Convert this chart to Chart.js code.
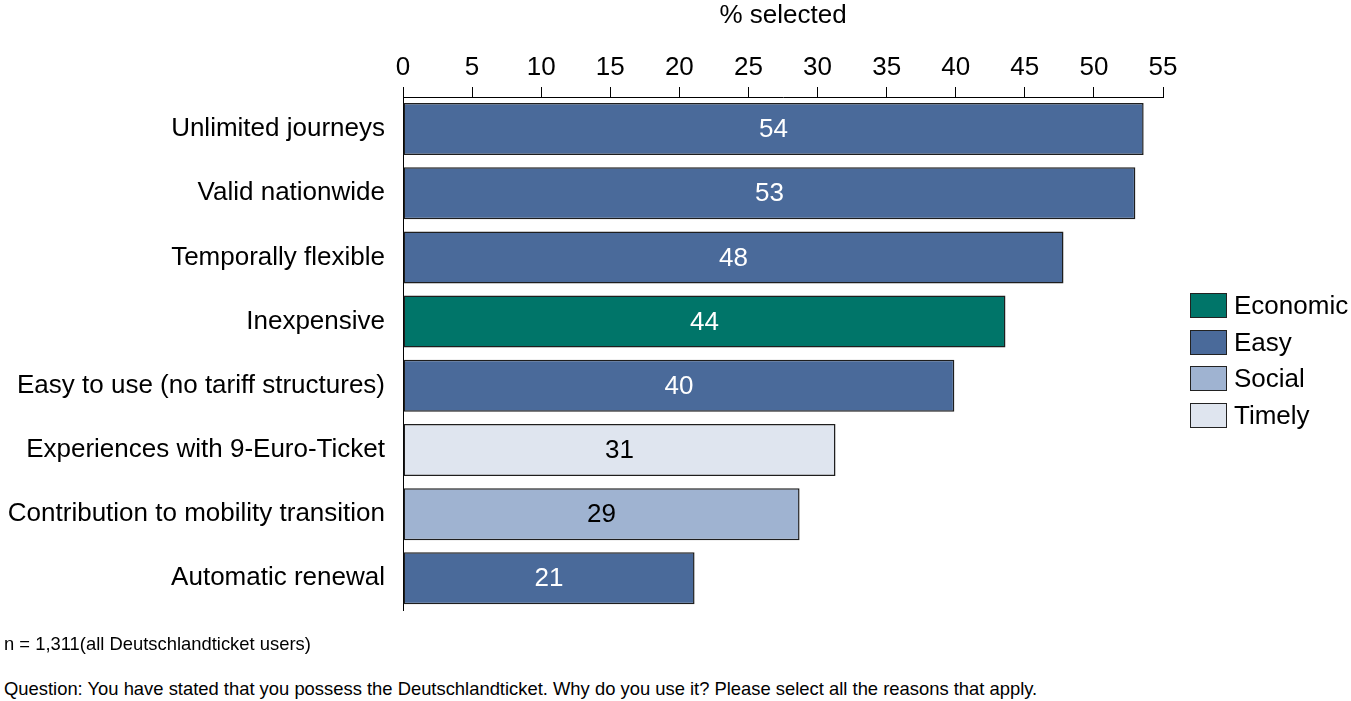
<!DOCTYPE html>
<html>
<head>
<meta charset="utf-8">
<script src="https://cdn.jsdelivr.net/npm/chart.js@4.4.1/dist/chart.umd.min.js"></script>
<style>
  body { margin: 0; background: #fff; font-family: "Liberation Sans", Arial, sans-serif; }
  #wrap { position: relative; width: 1351px; height: 701px; overflow: hidden; }
  #box { position: absolute; left: 0; top: 0; width: 1351px; height: 636px; }
  #legend { position: absolute; left: 1190px; top: 287px; }
  .li { height: 36.7px; display: flex; align-items: center; font-size: 26px; color: #000; }
  .sw { width: 37px; height: 25px; border: 1px solid #222; margin-right: 7px; box-sizing: border-box; }
  .note { position: absolute; left: 4px; font-size: 18.4px; color: #000; }
</style>
</head>
<body>
<div id="wrap">
  <div id="box"><canvas id="myChart"></canvas></div>
  <div id="legend"></div>
  <div class="note" style="top:633px">n = 1,311(all Deutschlandticket users)</div>
  <div class="note" style="top:678px">Question: You have stated that you possess the Deutschlandticket. Why do you use it? Please select all the reasons that apply.</div>
</div>
<script>
// reasons, top to bottom
var categorias = ["Unlimited journeys", "Valid nationwide", "Temporally flexible", "Inexpensive",
  "Easy to use (no tariff structures)", "Experiences with 9-Euro-Ticket",
  "Contribution to mobility transition", "Automatic renewal"];
var valores = [53.6, 53.0, 47.8, 43.6, 39.9, 31.3, 28.7, 21.1];
var etiquetas = [54, 53, 48, 44, 40, 31, 29, 21];
var grupoDeBarra = ["Easy", "Easy", "Easy", "Economic", "Easy", "Timely", "Social", "Easy"];
var xTicks = [0, 5, 10, 15, 20, 25, 30, 35, 40, 45, 50, 55];

var grupos = ["Economic", "Easy", "Social", "Timely"];
var grupoColores = { Economic: "#007569", Easy: "#4a6a9a", Social: "#9fb3d1", Timely: "#dfe5ef" };
var grupoTexto = { Economic: "#fff", Easy: "#fff", Social: "#000", Timely: "#000" };

var fuente = "'Liberation Sans', Arial, sans-serif";

// legend
var $leg = document.getElementById("legend");
grupos.forEach(function (g) {
  var d = document.createElement("div");
  d.className = "li";
  d.innerHTML = '<span class="sw" style="background:' + grupoColores[g] + '"></span>' + g;
  $leg.appendChild(d);
});

var etiquetasPlugin = {
  id: "etiquetas",
  afterDatasetsDraw: function (chart) {
    var ctx = chart.ctx;
    var meta = chart.getDatasetMeta(0);
    ctx.save();
    ctx.font = "26px " + fuente;
    ctx.textAlign = "center";
    ctx.textBaseline = "middle";
    meta.data.forEach(function (bar, i) {
      ctx.fillStyle = grupoTexto[grupoDeBarra[i]];
      ctx.fillText(String(etiquetas[i]), (bar.base + bar.x) / 2, bar.y + 1);
    });
    ctx.restore();
  }
};

new Chart("myChart", {
  type: "bar",
  data: {
    labels: categorias,
    datasets: [{
      data: valores,
      backgroundColor: grupoDeBarra.map(function (g) { return grupoColores[g]; }),
      borderColor: "#1e1e1e",
      borderWidth: 1.5,
      borderSkipped: false,
      barPercentage: 0.81,
      categoryPercentage: 1
    }]
  },
  options: {
    indexAxis: "y",
    responsive: true,
    maintainAspectRatio: false,
    animation: false,
    layout: { padding: { top: 0, right: 188, bottom: 11, left: 0 } },
    plugins: { legend: { display: false }, tooltip: { enabled: false } },
    scales: {
      x: {
        position: "top",
        min: 0, max: 55,
        afterBuildTicks: function (s) { s.ticks = xTicks.map(function (v) { return { value: v }; }); },
        afterFit: function (s) { s.height = 97; },
        ticks: { color: "#000", font: { size: 26, family: fuente }, padding: 4, maxRotation: 0 },
        grid: { drawOnChartArea: false, drawTicks: true, tickLength: 10, color: "#000", lineWidth: 1 },
        border: { display: true, color: "#000", width: 1 },
        title: { display: true, text: "% selected", color: "#000", font: { size: 26, family: fuente }, padding: { top: 0, bottom: 0 } }
      },
      y: {
        afterFit: function (s) { s.width = 403; },
        ticks: { color: "#000", font: { size: 26, family: fuente }, padding: 10 },
        grid: { display: false },
        border: { display: true, color: "#000", width: 1 }
      }
    }
  },
  plugins: [etiquetasPlugin]
});
</script>
</body>
</html>
